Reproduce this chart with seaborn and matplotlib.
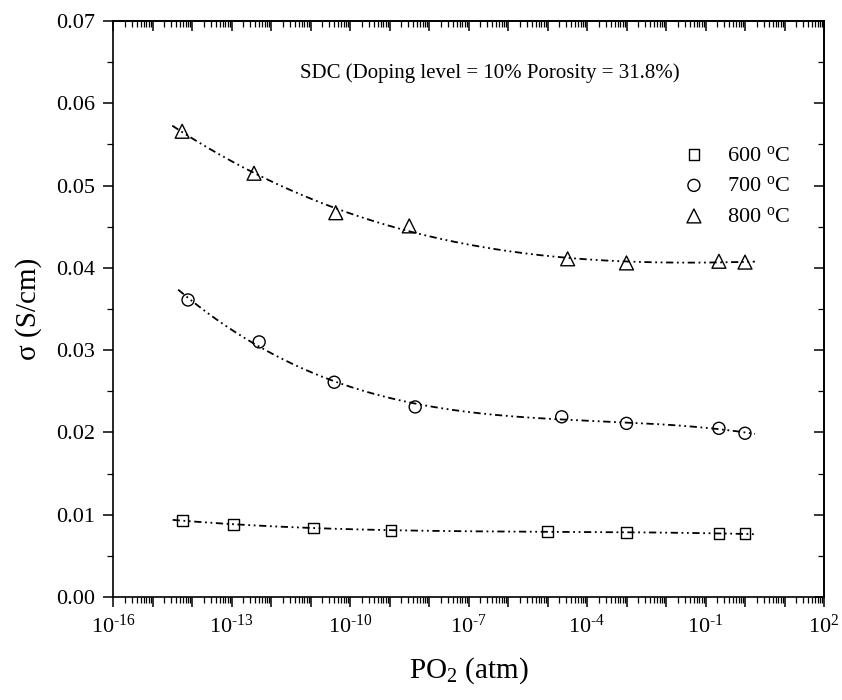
import numpy as np
import pandas as pd
import seaborn as sns
import matplotlib
matplotlib.use('Agg')
import matplotlib.pyplot as plt
from matplotlib.ticker import FixedLocator, LogLocator, MultipleLocator, FuncFormatter, NullFormatter

# Data (x stored as log10 of PO2 in atm)
temps = ['600 $^{\\mathrm{o}}$C', '700 $^{\\mathrm{o}}$C', '800 $^{\\mathrm{o}}$C']
log_po2_600 = [-14.24, -12.95, -10.93, -8.96, -5.0, -3.0, -0.66, 0.0]
sigma_600 = [0.0093, 0.0088, 0.0084, 0.0081, 0.0080, 0.0078, 0.0077, 0.0077]
log_po2_700 = [-14.1, -12.3, -10.4, -8.35, -4.64, -3.0, -0.66, 0.0]
sigma_700 = [0.0361, 0.0310, 0.0261, 0.0231, 0.0219, 0.0211, 0.0205, 0.0199]
log_po2_800 = [-14.25, -12.43, -10.36, -8.5, -4.49, -3.0, -0.66, 0.0]
sigma_800 = [0.0566, 0.0515, 0.0467, 0.0451, 0.0411, 0.0406, 0.0408, 0.0407]

markers = ['s', 'o', '^']
marker_sizes = [60, 75, 100]

sns.set_theme(style='ticks')
plt.rcParams['font.family'] = ['Liberation Serif', 'DejaVu Serif']
plt.rcParams['mathtext.fontset'] = 'custom'
plt.rcParams['mathtext.rm'] = 'Liberation Serif'
plt.rcParams['mathtext.it'] = 'Liberation Serif:italic'
plt.rcParams['mathtext.default'] = 'regular'
plt.rcParams['axes.unicode_minus'] = False
for key in ['text.color', 'axes.labelcolor', 'xtick.color', 'ytick.color', 'axes.edgecolor']:
    plt.rcParams[key] = 'black'

fig = plt.figure(figsize=(8.42, 7.0), dpi=100)
ax = fig.add_axes([113 / 842, 1 - 597 / 700, (824 - 113) / 842, (597 - 21) / 700])

series = [(log_po2_600, sigma_600), (log_po2_700, sigma_700), (log_po2_800, sigma_800)]
for (lx, sg), lab, mk, ms in zip(series, temps, markers, marker_sizes):
    lx = np.array(lx)
    sg = np.array(sg)
    # polynomial fit in log(PO2), drawn as dash-dot-dot curve
    coef = np.polyfit(lx, sg, 3)
    grid = np.linspace(lx.min() - 0.25, lx.max() + 0.25, 300)
    sns.lineplot(x=10 ** grid, y=np.polyval(coef, grid), ax=ax, color='black',
                 linewidth=1.3, linestyle=(0, (4, 2, 1, 2, 1, 2)), legend=False)
    sns.scatterplot(x=10 ** lx, y=sg, ax=ax, marker=mk, s=ms, facecolor='none',
                    edgecolor='black', linewidth=1.0, label=lab, zorder=3)

ax.set_xscale('log')
ax.set_xlim(1e-16, 1e2)
ax.set_ylim(0, 0.07)


def decade_label(v, pos):
    e = int(round(np.log10(v)))
    if e % 3 != 2:
        return ''
    return '10$^{\\text{%d}}$' % e


decades = np.arange(-16, 3)
ax.xaxis.set_major_locator(FixedLocator(10.0 ** decades))
ax.xaxis.set_minor_locator(LogLocator(base=10, subs=np.arange(2, 10), numticks=100))
ax.xaxis.set_major_formatter(FuncFormatter(decade_label))
ax.xaxis.set_minor_formatter(NullFormatter())
ax.yaxis.set_major_locator(MultipleLocator(0.01))
ax.yaxis.set_minor_locator(MultipleLocator(0.005))
ax.yaxis.set_major_formatter(FuncFormatter(lambda v, p: '%.2f' % v))

ax.tick_params(which='major', direction='out', length=7, width=1.1, labelsize=16, pad=6)
ax.tick_params(which='minor', direction='out', length=4, width=0.9)
for s in ax.spines.values():
    s.set_linewidth(1.2)

# inward ticks on top and right sides
top = ax.secondary_xaxis('top')
top.xaxis.set_major_locator(FixedLocator(10.0 ** decades))
top.xaxis.set_minor_locator(LogLocator(base=10, subs=np.arange(2, 10), numticks=100))
top.tick_params(which='major', direction='in', length=7, width=1.1, labeltop=False)
top.tick_params(which='minor', direction='in', length=4, width=0.9)
right = ax.secondary_yaxis('right')
right.yaxis.set_major_locator(MultipleLocator(0.01))
right.yaxis.set_minor_locator(MultipleLocator(0.005))
right.tick_params(which='major', direction='in', length=7, width=1.1, labelright=False)
right.tick_params(which='minor', direction='in', length=4, width=0.9)

ax.set_xlabel('PO$_2$ (atm)', fontsize=21, labelpad=12)
ax.set_ylabel('\u03c3 (S/cm)', fontsize=21, labelpad=10)

ax.text(0.53, 0.91, 'SDC (Doping level = 10% Porosity = 31.8%)', transform=ax.transAxes,
        ha='center', va='center', fontsize=15)

ax.legend(loc='upper right', bbox_to_anchor=(0.965, 0.80), frameon=False, fontsize=16,
          handletextpad=0.5, labelspacing=0.45, borderaxespad=0)

fig.savefig('out.png', dpi=100)
